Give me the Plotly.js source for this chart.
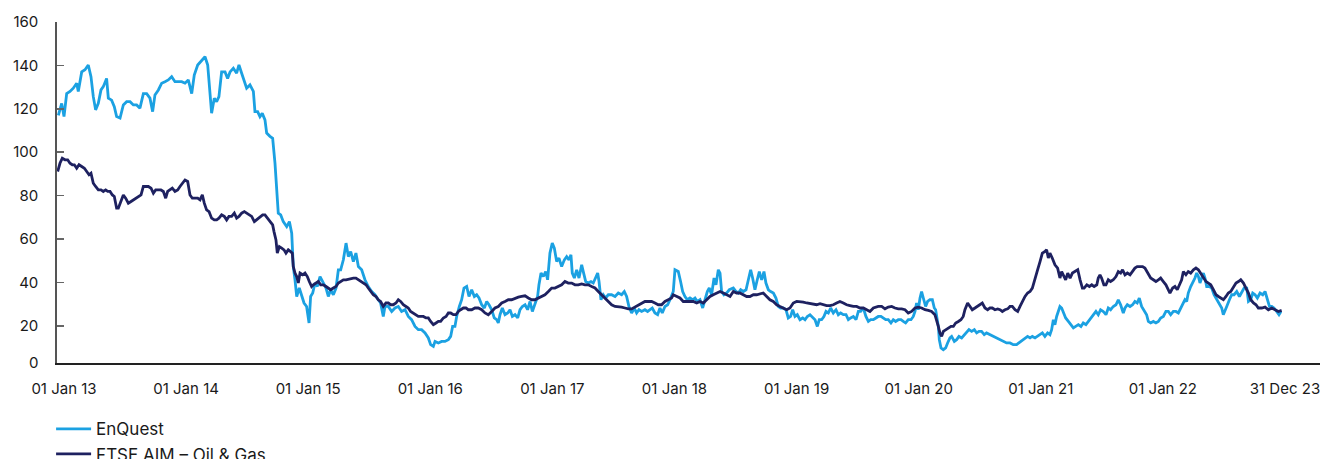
<!DOCTYPE html>
<html><head><meta charset="utf-8">
<script src="https://cdn.plot.ly/plotly-3.0.1.min.js"></script>
<style>html,body{margin:0;padding:0;background:#fff}#chart{width:1327px;height:459px}</style>
</head><body><div id="chart"></div>
<script>
// x-axis category labels (evenly spaced on the chart, one per slot)
const tickLabels = ["01 Jan 13","01 Jan 14","01 Jan 15","01 Jan 16","01 Jan 17","01 Jan 18","01 Jan 19","01 Jan 20","01 Jan 21","01 Jan 22","31 Dec 23"];
const yTicks = [20,40,60,80,100,120,140,160];

// EnQuest: position along the label slots, and rebased value
const enquestPos = [-0.046,-0.019,0.000,0.022,0.049,0.076,0.104,0.117,0.145,0.172,0.199,0.221,0.240,0.259,0.281,0.303,0.322,0.349,0.363,0.390,0.412,0.431,0.459,0.486,0.513,0.541,0.568,0.595,0.622,0.650,0.677,0.704,0.726,0.745,0.773,0.800,0.827,0.854,0.882,0.909,0.936,0.964,0.991,1.018,1.046,1.067,1.095,1.128,1.155,1.177,1.190,1.209,1.231,1.250,1.269,1.291,1.319,1.340,1.360,1.387,1.414,1.433,1.455,1.477,1.496,1.523,1.551,1.564,1.586,1.605,1.624,1.646,1.660,1.687,1.709,1.728,1.742,1.755,1.775,1.796,1.824,1.846,1.865,1.878,1.892,1.906,1.927,1.946,1.966,1.987,2.007,2.020,2.037,2.056,2.075,2.097,2.124,2.146,2.165,2.184,2.206,2.228,2.247,2.266,2.288,2.310,2.329,2.348,2.370,2.391,2.411,2.438,2.465,2.492,2.520,2.547,2.574,2.593,2.615,2.629,2.656,2.684,2.711,2.738,2.765,2.793,2.820,2.847,2.875,2.902,2.929,2.957,2.984,3.003,3.025,3.039,3.066,3.093,3.120,3.148,3.167,3.183,3.202,3.216,3.238,3.257,3.276,3.298,3.317,3.339,3.361,3.380,3.399,3.421,3.443,3.462,3.481,3.503,3.524,3.544,3.557,3.571,3.590,3.612,3.634,3.653,3.672,3.694,3.716,3.735,3.754,3.776,3.797,3.817,3.836,3.857,3.879,3.890,3.907,3.926,3.945,3.961,3.980,3.999,4.016,4.035,4.054,4.076,4.098,4.117,4.136,4.152,4.163,4.180,4.199,4.218,4.240,4.256,4.273,4.294,4.316,4.335,4.354,4.371,4.382,4.398,4.417,4.436,4.458,4.485,4.513,4.540,4.567,4.589,4.608,4.627,4.649,4.671,4.690,4.709,4.731,4.758,4.780,4.799,4.818,4.840,4.862,4.881,4.900,4.922,4.944,4.963,4.990,5.004,5.031,5.050,5.067,5.086,5.105,5.127,5.149,5.168,5.187,5.209,5.231,5.250,5.269,5.285,5.304,5.324,5.340,5.359,5.373,5.386,5.405,5.427,5.449,5.482,5.504,5.523,5.542,5.564,5.586,5.605,5.624,5.640,5.659,5.678,5.695,5.714,5.733,5.749,5.769,5.788,5.810,5.831,5.850,5.869,5.891,5.913,5.932,5.951,5.968,5.987,6.006,6.028,6.050,6.069,6.088,6.110,6.132,6.151,6.170,6.186,6.205,6.224,6.241,6.260,6.279,6.301,6.323,6.342,6.361,6.383,6.405,6.424,6.443,6.465,6.487,6.506,6.525,6.547,6.568,6.588,6.607,6.629,6.650,6.669,6.691,6.710,6.730,6.751,6.773,6.792,6.811,6.833,6.855,6.874,6.893,6.915,6.937,6.956,6.970,6.983,6.997,7.011,7.024,7.038,7.057,7.073,7.092,7.112,7.128,7.139,7.147,7.161,7.169,7.183,7.202,7.221,7.237,7.256,7.270,7.292,7.311,7.330,7.352,7.374,7.393,7.412,7.434,7.456,7.475,7.494,7.515,7.537,7.556,7.584,7.611,7.638,7.666,7.693,7.720,7.748,7.775,7.802,7.821,7.843,7.871,7.892,7.912,7.931,7.953,7.974,7.994,8.013,8.034,8.056,8.075,8.089,8.103,8.116,8.130,8.144,8.157,8.171,8.185,8.204,8.226,8.247,8.267,8.286,8.308,8.329,8.348,8.370,8.389,8.408,8.430,8.452,8.471,8.490,8.512,8.534,8.553,8.572,8.594,8.616,8.635,8.654,8.676,8.690,8.709,8.731,8.752,8.771,8.790,8.807,8.826,8.845,8.867,8.881,8.900,8.922,8.943,8.963,8.982,9.004,9.025,9.045,9.064,9.086,9.107,9.127,9.146,9.162,9.181,9.195,9.208,9.228,9.250,9.263,9.277,9.291,9.304,9.318,9.332,9.345,9.359,9.381,9.400,9.419,9.441,9.463,9.482,9.495,9.509,9.523,9.545,9.564,9.583,9.605,9.627,9.646,9.665,9.687,9.701,9.720,9.736,9.755,9.774,9.796,9.818,9.837,9.856,9.873,9.892,9.910,9.932,9.951,9.967];
const enquestVal = [117,122.5,116.4,127,128,129.5,131.8,128,137,138,140.2,134.8,125.6,119.5,122.5,128.7,130.2,134,124.9,124,121,116.4,115.7,121.8,123.3,123.3,121.8,121.8,120.3,127,127,124.9,118.7,126.4,128.7,131.8,132.5,133.3,134.8,132.5,132.5,132.5,131.8,133.3,127,135.6,140.2,142.5,144,140.2,131.8,118,124.9,123.3,125.6,137,137,134,137,138.7,136.4,140.2,136.4,132.5,129.5,131,128,118.7,118.7,116.4,117.9,114.9,108.8,107.3,106.4,95,83.4,71.9,71.1,68,65.7,68,62.7,47.3,41.2,33.5,37.4,33.5,30.5,28.9,21.3,33.5,35.1,39.7,38.1,42.7,39.7,37.4,33.5,36.6,34.3,37.4,45.8,45.8,50.4,58.1,51.9,54.2,49.6,53.5,47.3,45.8,41.2,38.1,35.8,34.3,32,30.5,24.3,28.9,28.9,26.6,28.2,28.9,26.6,27.4,24.3,22.8,19.7,18.2,18.2,16.7,14.4,11.3,10.5,12.8,12.1,12.8,12.8,13.6,15.1,19.7,19.7,24.3,28.9,32,37.4,38.1,33.5,36.6,33.5,34.3,32.8,29.7,28.2,31.2,29.7,27.4,23.6,22.8,21.3,25.1,28.2,25.1,25.9,27.4,24.3,25.1,23.6,27.4,28.9,29.7,27.4,31.2,26.6,29.7,33.5,38.9,44.3,42.7,45,41.2,53.5,58.1,55.8,49.6,51.2,47.3,50.4,51.9,50.4,52.7,44.3,42,45.8,42,48.1,44.3,40.4,39.7,40.4,39.7,42,44.3,40.4,32,34.3,32.8,34.3,34.3,33.5,35.1,34.3,35.8,33.5,28.9,25.9,28.2,25.9,27.4,26.6,27.4,26.6,27.4,28.2,25.9,25.1,28.2,25.9,28.9,29.7,32,35.8,45.8,45,40.4,35.8,33.5,32,32.8,32,32.8,31.2,32,28.2,32,35.8,37.4,34.3,42,38.9,45.8,44.3,35.8,34.3,35.1,36.6,37.4,35.8,35.1,36.6,35.8,36.6,41.2,45.8,42,36.6,41.2,45,41.2,45,39.7,36.6,35.8,35.1,32.8,28.9,28.2,28.2,27.4,23.6,24.3,27.4,24.3,25.1,22.8,23.6,22.8,24.3,25.1,23.6,22.8,19.7,22.8,22.8,24.3,26.6,25.9,28.2,25.9,27.4,25.1,25.9,25.1,25.1,22.8,23.6,24.3,22.8,26.6,26.6,28.2,24.3,22,22.8,22.8,23.6,24.3,24.3,23.6,22.8,22.8,21.3,22.8,22,22.8,22.8,22,21.3,22.8,22.8,24.3,26.6,30.5,27.4,32.8,35.8,32.8,28.9,31.2,32,32,28.2,27.4,24.3,19.7,13.6,9.8,9,9.8,12.1,14.4,15.1,12.8,13.6,15.1,14.4,15.9,16.7,18.2,17.4,18.2,16.7,17.4,17.4,15.9,16.7,15.9,15.1,14.4,13.6,12.8,12.1,12.1,11.3,11.3,12.1,12.8,14.4,15.1,14.4,15.1,14.4,15.1,15.9,16.7,15.1,16.7,15.9,18.2,22.8,20.5,24.3,26.6,28.9,28.2,25.9,23.6,22,20.5,19,19.7,20.5,19.7,21.3,20.5,22,23.6,25.1,26.6,25.1,27.4,26.6,25.1,28.2,27.4,28.9,29.7,32,29.7,25.9,28.2,29.7,28.9,29.7,31.2,30.5,32.8,28.9,27.4,25.1,22,21.3,22,21.3,22,23.6,24.3,26.6,26.6,25.1,26.6,26.6,25.9,28.2,30.5,32,31.2,35.1,38.1,40.4,42,44.3,42.7,39.7,42,44.3,42,38.1,38.1,37.4,34.3,32,29.7,28.2,25.1,27.4,28.9,32,34.3,34.3,35.8,33.5,35.8,37.4,37.4,31.2,32,35.1,34.3,32.8,35.1,34.3,35.8,32,28.9,28.9,28.2,26.6,25.1,26.6];

// FTSE AIM – Oil & Gas
const aimPos = [-0.052,-0.033,-0.014,0.008,0.030,0.049,0.068,0.085,0.104,0.123,0.145,0.167,0.186,0.205,0.221,0.240,0.259,0.281,0.303,0.322,0.341,0.358,0.377,0.396,0.412,0.431,0.445,0.459,0.472,0.486,0.505,0.527,0.549,0.568,0.587,0.609,0.631,0.650,0.669,0.691,0.713,0.732,0.751,0.773,0.794,0.814,0.833,0.849,0.868,0.887,0.909,0.931,0.950,0.969,0.991,1.013,1.032,1.051,1.073,1.095,1.114,1.133,1.149,1.168,1.188,1.209,1.231,1.250,1.269,1.291,1.313,1.332,1.351,1.373,1.395,1.414,1.433,1.455,1.477,1.496,1.515,1.537,1.559,1.578,1.597,1.619,1.627,1.646,1.665,1.687,1.709,1.720,1.736,1.747,1.764,1.783,1.802,1.818,1.837,1.856,1.870,1.878,1.892,1.906,1.919,1.933,1.955,1.974,1.993,2.009,2.028,2.042,2.064,2.083,2.102,2.124,2.146,2.165,2.184,2.206,2.228,2.247,2.266,2.288,2.310,2.329,2.348,2.370,2.391,2.411,2.430,2.452,2.474,2.492,2.511,2.533,2.555,2.574,2.593,2.615,2.637,2.656,2.675,2.697,2.719,2.738,2.757,2.779,2.801,2.820,2.839,2.861,2.883,2.902,2.921,2.943,2.965,2.984,3.003,3.025,3.047,3.066,3.085,3.107,3.129,3.148,3.167,3.189,3.210,3.230,3.249,3.271,3.292,3.311,3.339,3.366,3.393,3.421,3.448,3.475,3.503,3.530,3.557,3.585,3.612,3.639,3.666,3.694,3.721,3.748,3.776,3.803,3.830,3.857,3.885,3.912,3.939,3.967,3.994,4.021,4.049,4.076,4.103,4.130,4.158,4.185,4.212,4.240,4.267,4.294,4.322,4.349,4.376,4.404,4.431,4.458,4.485,4.513,4.540,4.567,4.594,4.622,4.649,4.676,4.704,4.731,4.758,4.785,4.813,4.840,4.867,4.894,4.922,4.949,4.976,4.990,5.018,5.045,5.072,5.100,5.127,5.154,5.182,5.209,5.236,5.263,5.291,5.318,5.345,5.373,5.400,5.427,5.455,5.482,5.509,5.536,5.564,5.591,5.618,5.646,5.673,5.700,5.727,5.755,5.782,5.809,5.837,5.864,5.891,5.919,5.946,5.973,6.001,6.028,6.055,6.083,6.110,6.137,6.164,6.192,6.219,6.246,6.274,6.301,6.328,6.355,6.383,6.410,6.437,6.465,6.492,6.519,6.547,6.574,6.601,6.629,6.656,6.669,6.697,6.724,6.751,6.779,6.806,6.833,6.861,6.888,6.915,6.942,6.970,6.997,7.024,7.052,7.079,7.106,7.133,7.147,7.161,7.174,7.188,7.202,7.221,7.243,7.265,7.284,7.303,7.325,7.346,7.365,7.379,7.401,7.420,7.439,7.461,7.483,7.502,7.521,7.543,7.565,7.584,7.603,7.625,7.647,7.666,7.685,7.707,7.729,7.748,7.767,7.789,7.811,7.830,7.849,7.871,7.892,7.912,7.931,7.953,7.974,7.994,8.013,8.034,8.048,8.062,8.075,8.094,8.116,8.138,8.157,8.171,8.185,8.204,8.221,8.240,8.259,8.281,8.303,8.322,8.341,8.355,8.377,8.398,8.418,8.437,8.459,8.471,8.485,8.498,8.517,8.534,8.553,8.572,8.594,8.616,8.635,8.654,8.670,8.690,8.709,8.731,8.752,8.771,8.790,8.812,8.834,8.853,8.867,8.881,8.900,8.922,8.943,8.963,8.982,9.004,9.025,9.045,9.058,9.080,9.099,9.118,9.135,9.154,9.168,9.189,9.208,9.228,9.250,9.271,9.291,9.310,9.332,9.353,9.373,9.392,9.414,9.435,9.455,9.474,9.496,9.517,9.536,9.556,9.578,9.599,9.619,9.638,9.660,9.681,9.701,9.720,9.742,9.763,9.782,9.810,9.837,9.864,9.892,9.919,9.946,9.973];
const aimVal = [91.1,94.9,97.2,96.5,96.5,94.9,94.2,94.2,92.6,94.2,93.4,92.6,91.1,89.6,90.3,85.7,84.2,82.6,82.6,81.9,82.6,81.9,81.9,80.3,79.6,74.2,74.2,76.5,78.8,80.3,78.8,76.5,77.3,78,78.8,79.6,80.3,84.2,84.2,84.2,83.4,81.1,82.6,82.6,82.6,81.9,78.8,81.9,82.6,83.4,81.9,82.6,84.2,85.7,87.2,86.5,80.3,78.8,78.8,78.8,78,80.3,76.5,73.4,72.6,69.6,68.8,68.8,69.6,71.1,70.4,68.8,70.4,70.4,71.9,69.6,70.4,71.9,72.6,71.9,71.1,70.4,68,68.8,69.6,70.4,71.1,71.1,69.6,68,66.5,63.4,59.6,53.5,56.5,55.8,55,53.5,55,54.2,53.5,47.3,44.3,42.7,39.7,44.3,43.5,44.3,42.7,40.4,38.1,38.9,39.7,40.4,38.9,38.9,38.1,37.4,36.6,37.4,38.1,39.7,40.4,41.2,41.2,41.5,42,42,42,41.2,40.4,39.7,38.9,37.4,35.8,34.3,33.5,32,31.2,28.9,30.5,30.5,29.7,29.7,30.5,32,31.2,29.7,28.9,28.2,26.6,25.9,25.1,24.3,24.3,24.3,23.6,23.6,22,20.5,21.3,22,22,23.6,24.3,25.9,25.9,25.1,25.1,26.6,27.4,28.2,28.2,27.4,27.4,28.2,28.2,27.4,25.9,25.1,26.6,28.2,28.9,30.5,31.2,32,32,32.8,33.2,33.5,33.8,32.8,32,32,32.8,33.5,34.3,35.8,37.4,37.4,38.1,38.9,40.4,39.7,39.7,38.9,38.9,39.3,38.9,38.9,38.1,37.4,35.8,34.3,32.8,31.2,29.7,28.9,28.9,28.6,28.2,27.8,27.8,28.6,29.7,30.5,31.2,31.2,31.2,30.5,29.7,29.7,31.2,32,32.8,34.3,33.5,32.8,31.2,31.2,31.2,31.2,30.5,31.2,30.5,32,33.5,34.3,35.1,35.8,35.1,34.3,33.5,35.8,35.1,35.1,34.3,33.5,33.5,34.3,34.3,34.7,35.1,33.5,32,31.2,29.7,28.9,28.2,27.4,28.2,30.5,31.2,31.2,30.9,30.5,30.2,29.7,29.7,30.2,29.7,29.3,29.3,29.7,30.5,31.2,30.5,29.7,29.3,28.9,28.9,28.2,28.2,27.4,26.6,28.2,28.9,28.9,28.9,27.8,28.6,28.9,28.2,27.8,27.8,27.4,25.9,26.6,28.2,28.6,28.2,27.4,27.1,26.6,25.1,22.8,19.7,16.7,15.1,17.4,18.2,19,19.7,19.7,21.3,22,22.8,24.3,27.4,30.5,28.9,27.4,28.2,28.9,29.7,30.5,28.2,27.4,28.2,28.2,27.4,27.8,27.4,26.6,27.4,27.8,28.9,28.9,27.4,26.6,28.9,31.2,33.5,35.1,35.8,37.4,41.2,45.8,49.6,53.5,54.2,55,51.2,53.5,51.2,48.1,46.6,42,45,43.5,41.2,44.3,42,44.3,45,45.8,41.2,37.4,37.4,38.9,38.1,38.9,38.1,38.9,42,43.5,42,38.9,38.9,41.2,40.4,41.2,42.7,45,44.3,45.8,43.5,44.3,43.5,45,46.6,47.3,47.3,47.3,46.6,45,43.5,42,41.2,40.4,41.2,42,40.4,38.9,36.6,35.1,37.4,38.1,36.6,38.9,41.2,45,43.5,45,44.3,45.8,46.6,45.8,44.3,42,40.4,39.7,38.9,36.6,34.3,33.5,32.8,32,33.5,35.1,35.8,38.1,39.7,40.4,41.2,39.7,37.4,35.1,32,30.5,29.7,28.2,28.2,28.6,27.4,28.2,27.4,26.6,27.1];

const FONT = "Inter, 'Open Sans', sans-serif";
const data = [
  {type:'scatter', mode:'lines', name:'EnQuest', x: enquestPos, y: enquestVal,
   line:{color:'#1BA1E2', width:2.8}, hoverinfo:'skip'},
  {type:'scatter', mode:'lines', name:'FTSE AIM – Oil & Gas', x: aimPos, y: aimVal,
   line:{color:'#1E2160', width:2.8}, hoverinfo:'skip'}
];
const layout = {
  width:1327, height:459,
  margin:{l:57, r:7, t:22, b:96, autoexpand:false},
  paper_bgcolor:'#fff', plot_bgcolor:'#fff',
  font:{family:FONT, size:15, color:'#1a1a1a'},
  showlegend:true,
  legend:{orientation:'v', xref:'container', yref:'container', x:0.0385, y:0.104, xanchor:'left', yanchor:'top',
          itemwidth:35, font:{family:FONT, size:17, color:'#1a1a1a'}, bgcolor:'rgba(0,0,0,0)', tracegroupgap:0},
  xaxis:{range:[-0.0573, 10.287], tickmode:'array', tickvals:tickLabels.map((_,i)=>i), ticktext:tickLabels,
         showgrid:false, zeroline:false, showline:true, linecolor:'#222', linewidth:2, ticks:'', automargin:false,
         tickfont:{family:FONT, size:15, color:'#1a1a1a'}, ticklabelstandoff:11, fixedrange:true},
  yaxis:{range:[2.85,160], tickmode:'array', tickvals:yTicks, ticktext:yTicks.map(String),
         showgrid:false, zeroline:false, showline:true, linecolor:'#555', linewidth:1.7, automargin:false,
         ticks:'inside', ticklen:7, tickwidth:1.5, tickcolor:'#666',
         tickfont:{family:FONT, size:15, color:'#1a1a1a'}, ticklabelstandoff:14, fixedrange:true},
  annotations:[{xref:'paper', yref:'y', x:0, y:2.85, text:'0', showarrow:false, xanchor:'right', yanchor:'middle',
                xshift:-17, yshift:1, font:{family:FONT, size:15, color:'#1a1a1a'}}]
};
Plotly.newPlot('chart', data, layout, {staticPlot:true, displayModeBar:false});
</script>
</body></html>
